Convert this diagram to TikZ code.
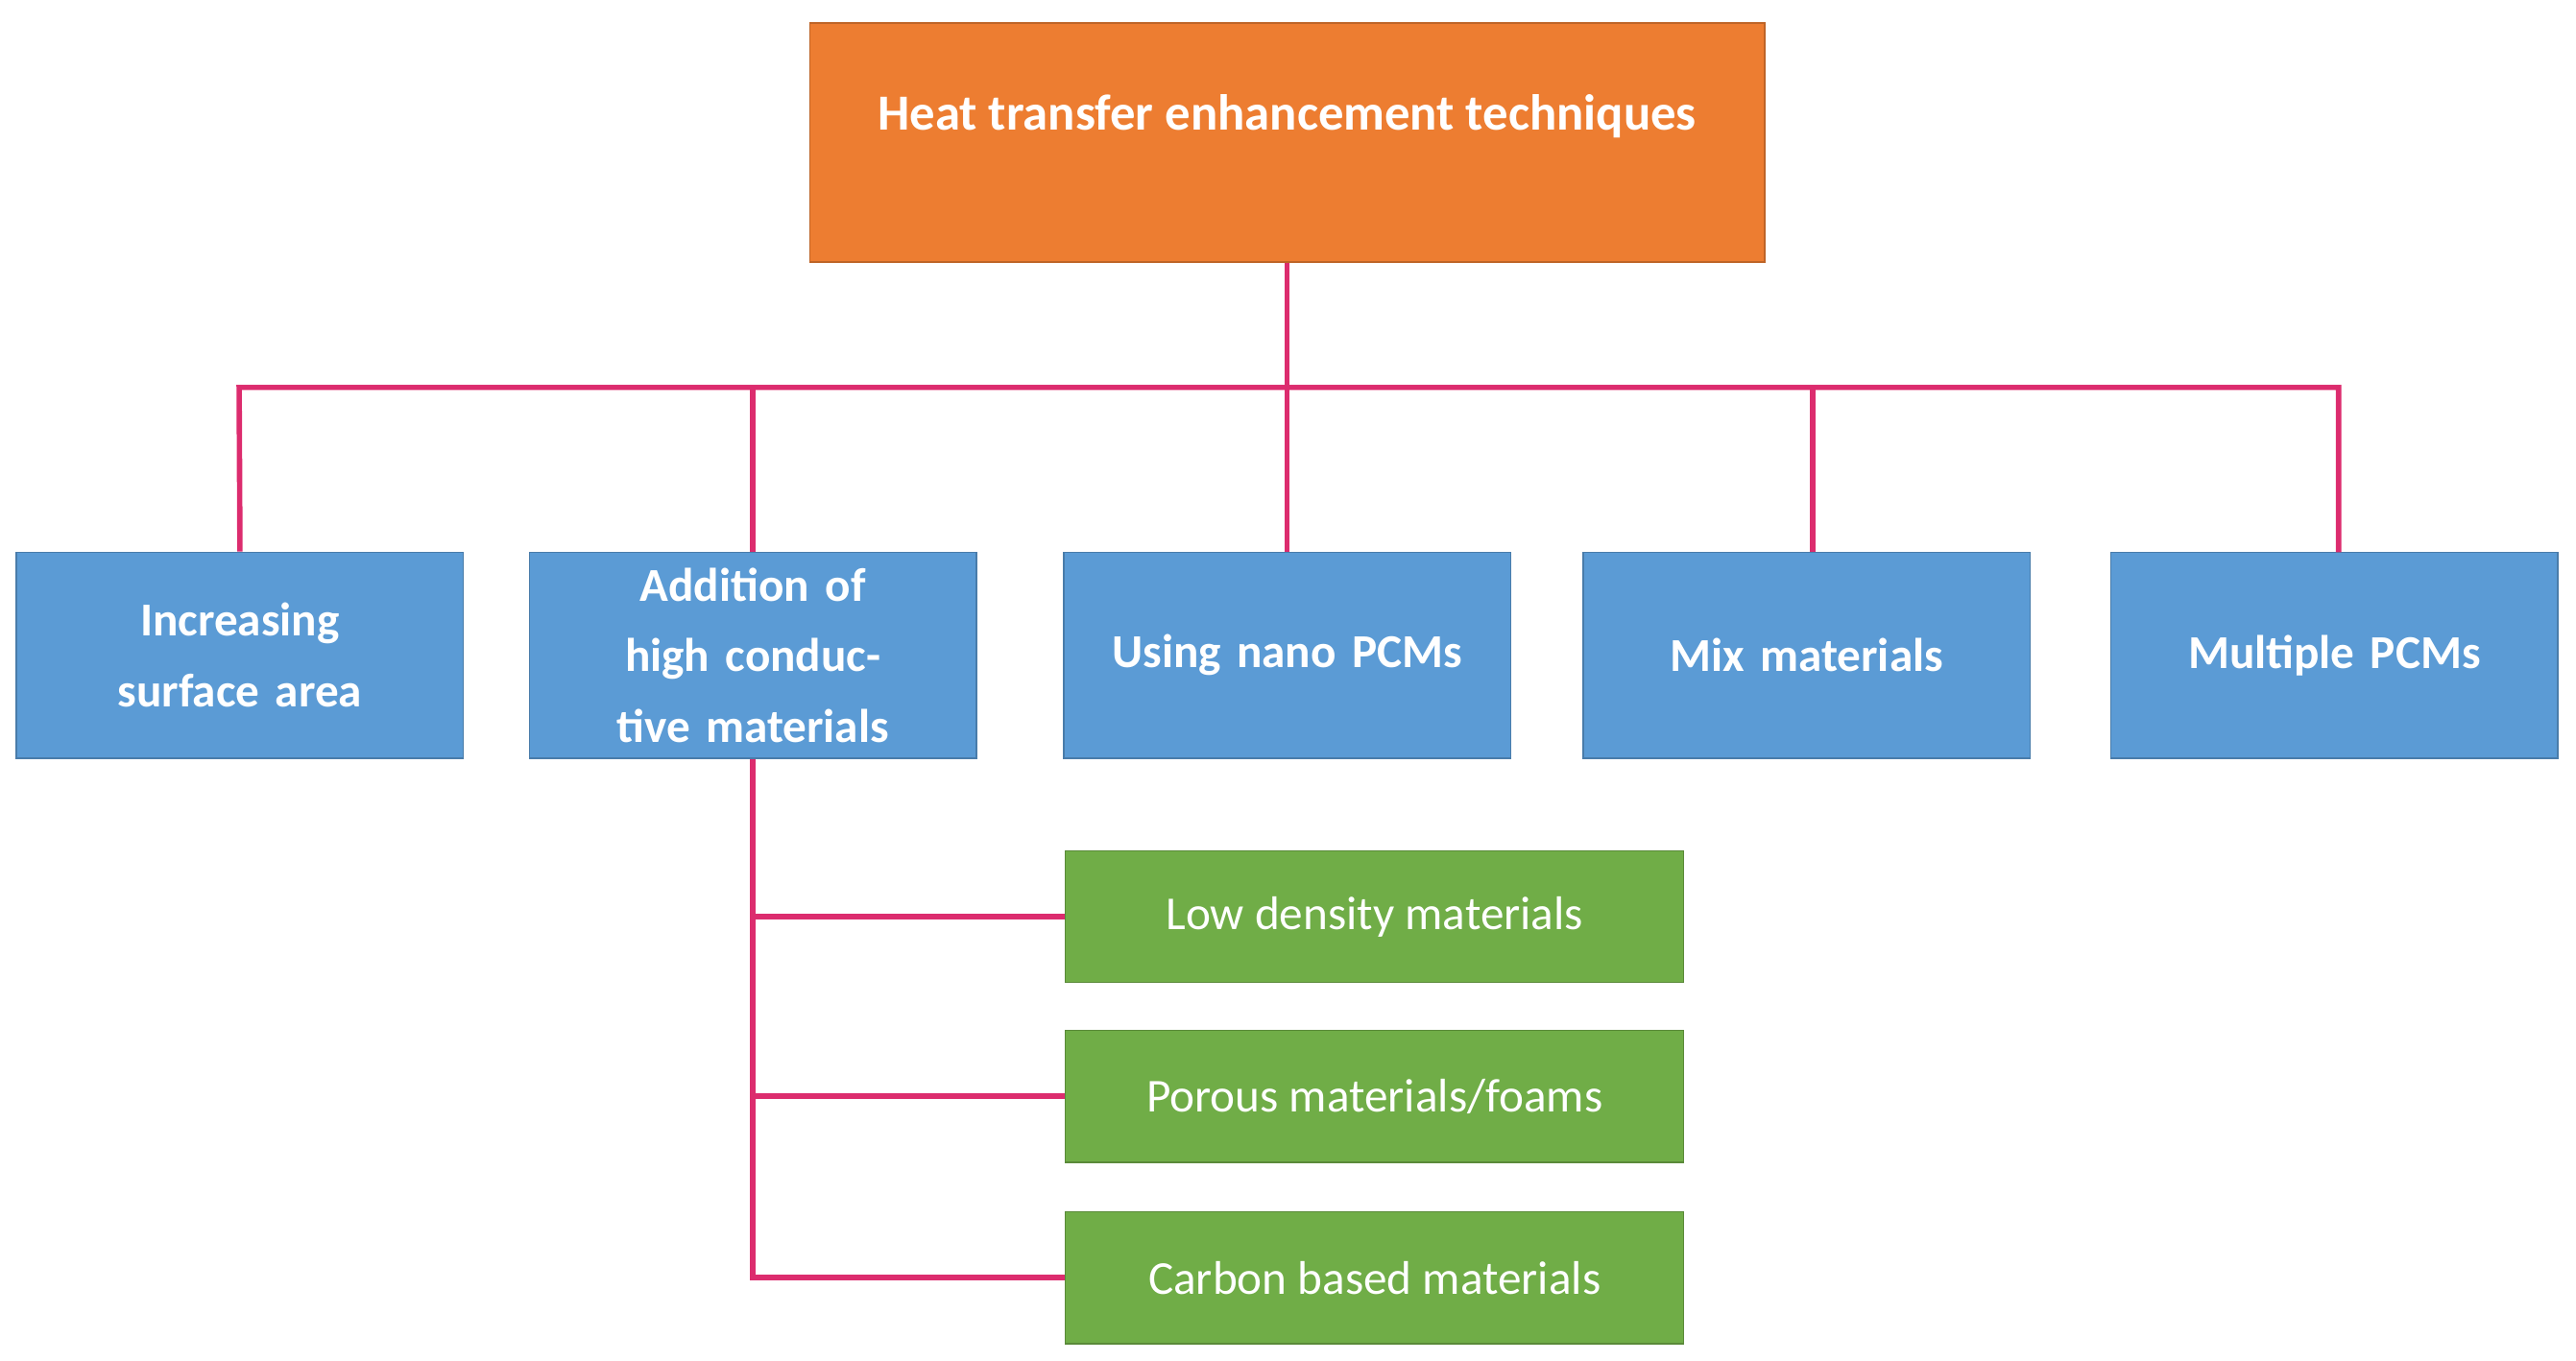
\documentclass[tikz,border=0pt]{standalone}
\usepackage{fontspec}
\setmainfont{Carlito}
\begin{document}
\begin{tikzpicture}[x=0.01718cm,y=-0.01718cm,
 box/.style={draw=#1!80!black,fill=#1,text=white,inner sep=2pt,align=center,line width=0.4pt},
 top/.style={box=orange1,minimum width=579*0.01718cm,minimum height=145*0.01718cm,font=\fontsize{15}{18}\selectfont\bfseries},
 blue/.style={box=blue1,minimum width=271*0.01718cm,minimum height=125*0.01718cm,text width=230*0.01718cm,font=\fontsize{14}{21}\selectfont\bfseries},
 green/.style={box=green1,minimum width=375*0.01718cm,minimum height=80*0.01718cm,font=\fontsize{14}{17}\selectfont},
 conn/.style={draw=pink1,line width=1.6pt}]
\definecolor{orange1}{HTML}{ED7D31}
\definecolor{blue1}{HTML}{5B9BD5}
\definecolor{green1}{HTML}{70AD47}
\definecolor{pink1}{HTML}{DC2C6E}
\useasboundingbox (0,0) rectangle (1562,825);
\node[top] (t) at (780.5,86.5) {};
\node[anchor=north,font=\fontsize{15}{18}\selectfont\bfseries,text=white] (tt) at (780.5,50) {Heat transfer enhancement techniques};
\node[blue] (b1) at (145.5,397.5) {Increasing surface area};
\node[blue] (b2) at (456.5,397.5) {Addition of high conductive materials};
\node[blue] (b3) at (780.5,397.5) {Using nano PCMs};
\node[blue] (b4) at (1095.5,397.5) {Mix materials};
\node[blue] (b5) at (1415.5,397.5) {Multiple PCMs};
\node[green] (g1) at (833.5,556) {Low density materials};
\node[green] (g2) at (833.5,665) {Porous materials/foams};
\node[green] (g3) at (833.5,775) {Carbon based materials};
\coordinate (hl) at (145,235);
\coordinate (hr) at (1418,235);
\draw[conn] (t.south) -- (b3.north);
\draw[conn] (b1.north) -- (hl) -- (hr) -- (1418,335);
\draw[conn] (b2.north) -- (456.5,235);
\draw[conn] (1099,235) -- (1099,335);
\coordinate (c3) at (456.5,775);
\draw[conn] (b2.south) -- (c3) -- (g3.west);
\draw[conn] (456.5,556) -- (g1.west);
\draw[conn] (456.5,665) -- (g2.west);
\end{tikzpicture}
\end{document}
